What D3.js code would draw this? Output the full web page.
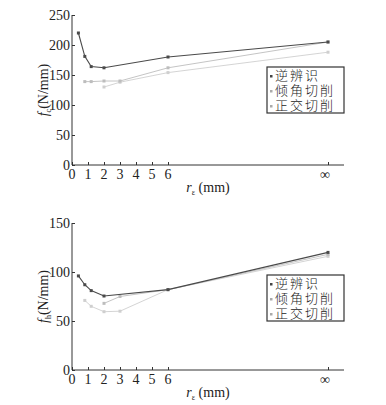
<!DOCTYPE html>
<html>
<head>
<meta charset="utf-8">
<script src="https://cdn.jsdelivr.net/npm/d3@7"></script>
<style>
  body { margin: 0; background: #fff; }
  svg text { font-family: "Liberation Serif", "DejaVu Serif", serif; fill: #222; }
  .cjk { font-family: "Noto Sans CJK SC", sans-serif; font-weight: 300; }
</style>
</head>
<body>
<div id="chart"></div>
<script>
// x positions; "∞" is put at 16 on the axis
const INF = 16;
const xTicks = [0, 1, 2, 3, 4, 5, 6, INF];
const xTickLabels = ["0", "1", "2", "3", "4", "5", "6", "∞"];
const seriesNames = ["逆辨识", "倾角切削", "正交切削"];

// top panel f_c
const fcIdentX = [0.4, 0.8, 1.2, 2, 6, INF];
const fcIdent = [220, 181, 164, 162, 180, 205];
const fcObliqueX = [0.8, 1.2, 2, 3, 6, INF];
const fcOblique = [139, 139, 140, 140, 162, 205];
const fcOrthoX = [2, 3, 6, INF];
const fcOrtho = [130, 138, 154, 188];
const fcTicks = [0, 50, 100, 150, 200, 250];

// bottom panel f_h
const fhIdentX = [0.4, 0.8, 1.2, 2, 6, INF];
const fhIdent = [96, 87, 81, 75.5, 82, 120];
const fhObliqueX = [2, 3, 6, INF];
const fhOblique = [68, 75, 82, 118];
const fhOrthoX = [0.8, 1.2, 2, 3, 6, INF];
const fhOrtho = [71, 65, 59.5, 60, 82, 116];
const fhTicks = [0, 50, 100, 150];

const colors = ["#4a4a4a", "#bdbdbd", "#cfcfcf"];

const svg = d3.select("#chart").append("svg").attr("width", 386).attr("height", 405);

const x = d3.scaleLinear().domain([0, 17]).range([72, 344]);

function drawPanel(top, bottom, yMax, yTicks, sub, series) {
  const y = d3.scaleLinear().domain([0, yMax]).range([bottom, top]);
  const g = svg.append("g");

  // y axis, ticks inward
  g.append("g")
    .attr("transform", `translate(${x(0)},0)`)
    .call(d3.axisRight(y).tickValues(yTicks).tickSize(3).tickFormat(""))
    .call(a => a.select(".domain").attr("stroke", "#333").attr("d", `M0,${bottom}V${top}`))
    .call(a => a.selectAll("line").attr("stroke", "#333"));
  g.selectAll(".ylab").data(yTicks).enter().append("text")
    .attr("x", x(0) - 2).attr("y", d => y(d) + 5)
    .attr("text-anchor", "end").attr("font-size", 14).text(d => d);

  // x axis, ticks inward
  g.append("g")
    .attr("transform", `translate(0,${bottom})`)
    .call(d3.axisTop(x).tickValues(xTicks).tickSize(3).tickFormat(""))
    .call(a => a.select(".domain").attr("stroke", "#333").attr("d", `M${x(0)},0H${x(17)}`))
    .call(a => a.selectAll("line").attr("stroke", "#333"));
  g.selectAll(".xlab").data(xTicks).enter().append("text")
    .attr("x", (d, i) => x(d) - (i == xTicks.length - 1 ? 3 : 0)).attr("y", bottom + 14)
    .attr("text-anchor", "middle").attr("font-size", 14)
    .text((d, i) => xTickLabels[i]);

  // axis titles
  const xt = g.append("text").attr("x", 208).attr("y", bottom + 27)
    .attr("text-anchor", "middle").attr("font-size", 14);
  xt.append("tspan").attr("font-style", "italic").text("r");
  xt.append("tspan").attr("font-size", 8).attr("dy", 3).text("ε");
  xt.append("tspan").attr("dy", -3).text(" (mm)");

  const cy = (top + bottom) / 2;
  const yt = g.append("text").attr("transform", `translate(48,${cy}) rotate(-90)`)
    .attr("text-anchor", "middle").attr("font-size", 14);
  yt.append("tspan").attr("font-style", "italic").text("f");
  yt.append("tspan").attr("font-size", 8).attr("dy", 3).text(sub);
  yt.append("tspan").attr("dy", -3).text("(N/mm)");

  const line = d3.line().x(d => x(d[0])).y(d => y(d[1]));
  series.slice().reverse().forEach((s, ri) => {
    const i = series.length - 1 - ri;
    const pts = s.xs.map((v, k) => [v, s.ys[k]]);
    g.append("path").datum(pts).attr("d", line)
      .attr("fill", "none").attr("stroke", colors[i]).attr("stroke-width", i == 0 ? 1.1 : 0.9);
    g.selectAll(".pt" + i).data(pts).enter().append("rect")
      .attr("x", d => x(d[0]) - 1.5).attr("y", d => y(d[1]) - 1.5)
      .attr("width", 3).attr("height", 3).attr("fill", colors[i]);
  });

  // legend: one text block, one line per series
  const lx = 267, ly = top + 52;
  g.append("rect").attr("x", lx).attr("y", ly).attr("width", 77).attr("height", 46)
    .attr("fill", "#fff").attr("stroke", "#333").attr("stroke-width", 1.2);
  const lt = g.append("text").attr("class", "cjk").attr("y", ly + 13)
    .attr("font-size", 13).attr("letter-spacing", 2);
  seriesNames.forEach((n, i) => {
    g.append("rect").attr("x", lx + 3).attr("y", ly + 8 + i * 15).attr("width", 2.5).attr("height", 2.5)
      .attr("fill", i == 0 ? "#444" : "#aaa");
    lt.append("tspan").attr("x", lx + 8).attr("dy", i == 0 ? 0 : 15).text(n);
  });
}

drawPanel(15, 165, 250, fcTicks, "c", [
  { xs: fcIdentX, ys: fcIdent },
  { xs: fcObliqueX, ys: fcOblique },
  { xs: fcOrthoX, ys: fcOrtho }
]);

drawPanel(223, 370, 150, fhTicks, "h", [
  { xs: fhIdentX, ys: fhIdent },
  { xs: fhObliqueX, ys: fhOblique },
  { xs: fhOrthoX, ys: fhOrtho }
]);
</script>
</body>
</html>
